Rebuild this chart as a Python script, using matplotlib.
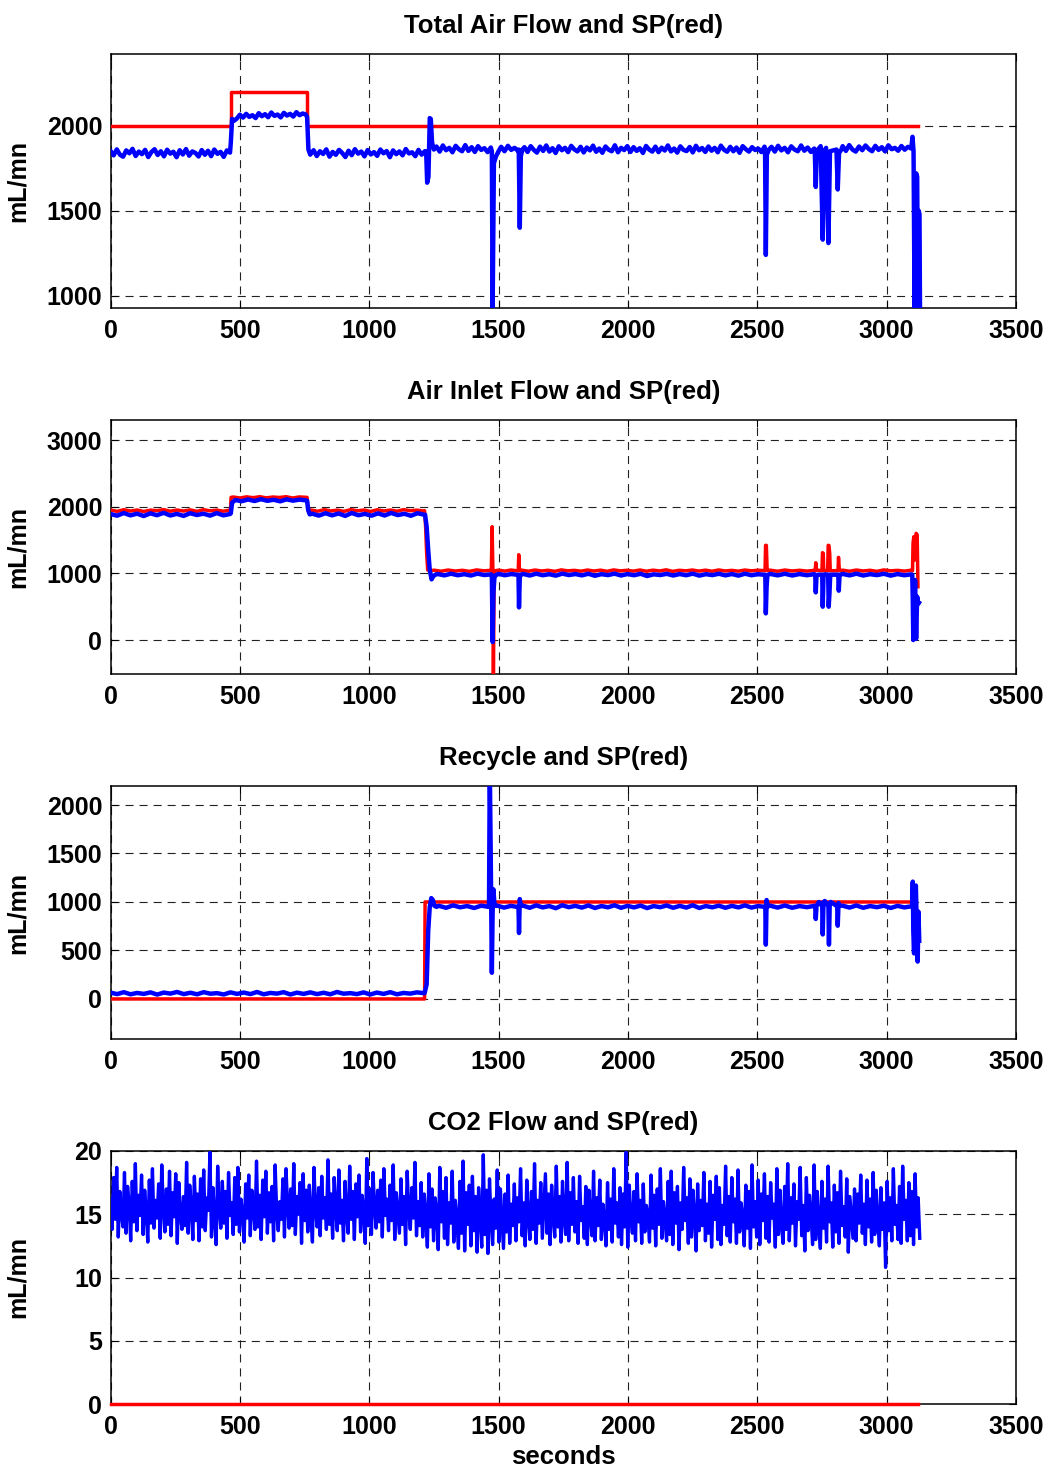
import numpy as np
import matplotlib
matplotlib.use('Agg')
import matplotlib.pyplot as plt

plt.rcParams['font.family'] = ['Liberation Sans', 'DejaVu Sans']
plt.rcParams['font.weight'] = 'bold'
plt.rcParams['lines.scale_dashes'] = False

# Each measured series is a list of pieces: ((t0, t1), values) for a flat noisy
# stretch sampled evenly, or ([t...], [v...]) for explicit points (steps, spikes).

# --- Total Air Flow ---
total_sp_t = [0, 464, 464, 758, 758, 3121]
total_sp_v = [2000, 2000, 2200, 2200, 2000, 2000]
total_pv = [
    ((0, 462), [1852, 1826, 1861, 1830, 1818, 1855, 1838, 1864, 1822, 1848, 1833, 1858, 1816, 1845, 1862, 1828, 1850, 1820, 1859, 1836,
                1847, 1815, 1856, 1831, 1863, 1824, 1849, 1840, 1819, 1857, 1829, 1853, 1821, 1860, 1835, 1846, 1817, 1855, 1842]),
    ([465, 470, 478], [1900, 2040, 2030]),
    ((488, 755), [2042, 2065, 2048, 2070, 2052, 2062, 2045, 2074, 2056, 2068, 2050, 2078, 2058, 2066, 2049, 2076, 2060, 2070, 2054, 2080,
                  2062, 2072, 2066]),
    ([760, 765, 772], [2050, 1860, 1830]),
    ((785, 1215), [1856, 1822, 1850, 1834, 1861, 1818, 1846, 1829, 1858, 1840, 1816, 1853, 1827, 1862, 1836, 1848, 1820, 1857, 1831, 1845,
                   1823, 1860, 1838, 1851, 1815, 1855, 1833, 1849, 1826, 1863, 1837, 1844, 1821, 1858, 1830, 1850]),
    ([1220, 1224, 1229, 1234, 1238, 1243, 1250], [1850, 1665, 1700, 2045, 2040, 1900, 1860]),
    ((1260, 1470), [1878, 1848, 1884, 1856, 1870, 1844, 1882, 1862, 1850, 1886, 1852, 1874, 1846, 1880, 1858, 1868, 1845, 1872]),
    ([1474, 1477, 1482, 1490, 1500], [1850, 900, 1780, 1820, 1850]),
    ((1510, 1575), [1876, 1850, 1882, 1858, 1870, 1852]),
    ([1578, 1582, 1586, 1592], [1860, 1400, 1820, 1860]),
    ((1600, 2528), [1874, 1846, 1880, 1858, 1842, 1877, 1852, 1884, 1848, 1868, 1840, 1879, 1856, 1870, 1845, 1882, 1861, 1849, 1876, 1843,
                    1872, 1855, 1883, 1847, 1866, 1841, 1878, 1859, 1850, 1885, 1844, 1870, 1857, 1880, 1846, 1874, 1852, 1868, 1840, 1881,
                    1860, 1848, 1877, 1845, 1871, 1854, 1884, 1849, 1866, 1842, 1879, 1858, 1851, 1875, 1843, 1882, 1856, 1869, 1846, 1878,
                    1853, 1870, 1844, 1883, 1859, 1847, 1876, 1850, 1872, 1841, 1880, 1862, 1848, 1874, 1857, 1866, 1845, 1877]),
    ([2530, 2533, 2537, 2545], [1860, 1240, 1830, 1860]),
    ((2555, 2720), [1876, 1848, 1882, 1855, 1870, 1844, 1879, 1860, 1850, 1884, 1853, 1872, 1846, 1866]),
    ([2722, 2726, 2730, 2745, 2753, 2758, 2766, 2775, 2781, 2806, 2811, 2816, 2825],
     [1860, 1640, 1850, 1880, 1330, 1850, 1870, 1310, 1850, 1860, 1625, 1840, 1860]),
    ((2830, 3095), [1880, 1852, 1886, 1860, 1848, 1878, 1856, 1884, 1863, 1850, 1882, 1858, 1874, 1849, 1885, 1862, 1870, 1853, 1881, 1859,
                    1876, 1866]),
    ([3100, 3104, 3108, 3114, 3118, 3121, 3124, 3127, 3129], [1935, 1850, 900, 1720, 1700, 900, 1500, 1480, 900]),
]

# --- Air Inlet Flow ---
inlet_sp = [
    ((0, 462), [1950, 1930, 1955, 1935, 1950, 1928, 1948, 1940, 1956, 1932, 1950, 1935, 1952, 1930, 1955, 1938, 1948, 1932, 1950]),
    ([464, 466], [1950, 2140]),
    ((475, 755), [2145, 2130, 2148, 2135, 2150, 2132, 2145, 2138, 2150, 2130, 2146, 2140]),
    ([760, 763], [2140, 1945]),
    ((775, 1210), [1950, 1932, 1955, 1936, 1948, 1930, 1956, 1938, 1950, 1928, 1954, 1935, 1950, 1932, 1956, 1940, 1948, 1936]),
    ([1214, 1218, 1222, 1226, 1240], [1940, 1700, 1300, 1050, 1040]),
    ((1250, 1470), [1048, 1032, 1050, 1035, 1046, 1030, 1052, 1038, 1045]),
    ([1472, 1475, 1478, 1480, 1483, 1488], [1040, 1700, 1050, -600, 1000, 1040]),
    ((1500, 1572), [1048, 1034, 1050, 1038]),
    ([1576, 1578, 1581], [1040, 1280, 1040]),
    ((1590, 2528), [1048, 1032, 1050, 1036, 1046, 1030, 1052, 1038, 1045, 1033, 1050, 1035, 1048, 1031, 1052, 1037, 1046, 1034, 1050,
                    1032, 1048, 1036, 1053, 1030, 1046, 1038, 1050, 1034, 1048, 1032, 1051, 1036, 1045, 1033, 1050, 1038, 1047, 1040]),
    ([2530, 2532, 2535, 2538, 2541], [1040, 1420, 1420, 1060, 1040]),
    ((2550, 2720), [1048, 1032, 1050, 1036, 1046, 1034, 1045]),
    ([2724, 2726, 2729, 2750, 2752, 2755, 2757, 2772, 2774, 2777, 2780, 2782, 2812, 2814, 2817, 2820],
     [1040, 1160, 1050, 1040, 1310, 1300, 1040, 1040, 1420, 1420, 1300, 1040, 1040, 1240, 1060, 1040]),
    ((2830, 3095), [1048, 1032, 1050, 1036, 1046, 1030, 1052, 1038, 1045, 1034, 1048]),
    ([3100, 3102, 3105, 3108, 3111, 3114, 3118, 3121], [1040, 1450, 1550, 1200, 1500, 1600, 1580, 800]),
]
inlet_pv = [
    ((0, 462), [1890, 1865, 1905, 1870, 1895, 1860, 1900, 1872, 1908, 1868, 1892, 1862, 1902, 1875, 1895, 1866, 1904, 1870, 1890]),
    ([465, 470, 476], [1900, 2060, 2080]),
    ((482, 755), [2100, 2082, 2108, 2085, 2112, 2088, 2104, 2080, 2110, 2090, 2106, 2095]),
    ([760, 764, 770], [2090, 1950, 1885]),
    ((780, 1212), [1895, 1866, 1902, 1870, 1898, 1862, 1905, 1872, 1892, 1865, 1900, 1868, 1906, 1874, 1894, 1864, 1902, 1880]),
    ([1216, 1222, 1228, 1234, 1241, 1248, 1258], [1880, 1700, 1350, 1050, 910, 960, 985]),
    ((1265, 1470), [990, 970, 995, 972, 988, 968, 996, 975, 985]),
    ([1474, 1477, 1480, 1484, 1490], [980, -30, 700, 940, 975]),
    ((1500, 1574), [992, 972, 990, 978]),
    ([1577, 1579, 1582, 1586], [980, 490, 940, 980]),
    ((1595, 2528), [992, 968, 995, 972, 988, 966, 996, 975, 990, 970, 994, 964, 988, 974, 996, 968, 990, 972, 994,
                    960, 986, 975, 993, 968, 990, 972, 996, 966, 988, 974, 994, 970, 990, 966, 995, 972, 988, 978]),
    ([2531, 2533, 2536, 2539], [980, 400, 800, 975]),
    ((2550, 2720), [992, 970, 994, 968, 990, 972, 988]),
    ([2724, 2726, 2729, 2735, 2751, 2753, 2756, 2760, 2774, 2776, 2779, 2782, 2813, 2815, 2818],
     [980, 715, 970, 980, 980, 500, 950, 985, 980, 500, 700, 980, 980, 740, 975]),
    ((2830, 3095), [992, 970, 995, 968, 988, 974, 994, 966, 990, 972, 985]),
    ([3099, 3101, 3103, 3106, 3110, 3114, 3118, 3121, 3125], [980, 600, 0, 300, 900, 20, 650, 570, 560]),
]

# --- Recycle ---
recycle_sp_t = [0, 1214, 1216, 3100]
recycle_sp_v = [0, 0, 1000, 1000]
recycle_pv = [
    ((0, 1210), [65, 50, 70, 48, 62, 52, 68, 45, 66, 55, 72, 50, 64, 48, 70, 54, 60, 46, 68, 52, 66, 50, 72, 48,
                 62, 55, 70, 46, 65, 52, 68, 50, 64, 48, 72, 54, 60, 50, 68, 46, 66, 52, 70, 48, 62, 55, 68, 60]),
    ([1214, 1222, 1228, 1234, 1240, 1246, 1252, 1260], [60, 150, 700, 950, 1040, 1020, 960, 950]),
    ((1270, 1460), [960, 940, 965, 945, 958, 938, 962, 950]),
    ([1463, 1466, 1470, 1474, 1477, 1480, 1484, 1490], [955, 2400, 1400, 270, 900, 1130, 980, 960]),
    ((1495, 1574), [962, 942, 960, 948]),
    ([1577, 1579, 1582, 1586], [955, 680, 1030, 960]),
    ((1595, 2528), [962, 940, 965, 944, 958, 936, 966, 946, 960, 942, 964, 938, 958, 945, 966, 940, 960, 944, 963,
                    937, 958, 946, 964, 940, 960, 942, 966, 938, 958, 945, 962, 940, 960, 944, 965, 942, 958, 950]),
    ([2531, 2533, 2536, 2540], [955, 560, 1020, 955]),
    ((2550, 2720), [962, 942, 964, 940, 958, 946, 960]),
    ([2724, 2726, 2729, 2738, 2751, 2753, 2756, 2761, 2775, 2777, 2780, 2784, 2809, 2811, 2814, 2818],
     [955, 825, 960, 1000, 955, 665, 1000, 1010, 955, 560, 990, 1000, 955, 755, 990, 960]),
    ((2830, 3095), [962, 942, 964, 940, 958, 946, 962, 938, 960, 944, 955]),
    ([3099, 3101, 3103, 3106, 3109, 3113, 3116, 3120, 3123, 3126], [955, 1210, 700, 470, 1100, 1170, 800, 385, 900, 600]),
]

# --- CO2 Flow (one reading every 6 s) ---
co2_sp_t = [0, 3121]
co2_sp_v = [0, 0]
co2_pv = [
    16.2, 13.8, 17.9, 14.6, 18.7, 13.2, 16.8, 15.1, 14.0, 18.3, 13.5, 17.2, 15.8, 12.9, 17.6, 14.4, 19.0, 13.7, 16.5, 14.9,
    18.1, 13.4, 16.9, 15.2, 12.8, 17.7, 14.3, 18.6, 13.9, 16.1, 14.7, 17.4, 13.1, 18.9, 15.5, 13.6, 17.0, 14.2, 18.4, 13.3,
    16.7, 14.8, 18.2, 12.7, 17.5, 15.0, 13.8, 16.4, 14.1, 19.1, 13.5, 17.3, 15.6, 13.0, 18.0, 14.5, 16.6, 12.9, 17.8, 14.0,
    18.5, 13.7, 16.3, 15.3, 19.9, 13.2, 17.1, 14.6, 12.6, 18.8, 15.4, 13.9, 17.6, 14.3, 16.8, 13.1, 18.3, 14.9, 15.9, 13.4,
    17.9, 14.2, 18.7, 13.6, 16.2, 15.1, 12.8, 17.4, 14.7, 18.1, 13.3, 16.9, 15.5, 13.8, 19.2, 14.0, 16.5, 13.0, 17.7, 14.8,
    18.4, 13.5, 16.7, 14.4, 17.2, 12.9, 18.9, 15.2, 13.7, 16.0, 14.6, 17.8, 13.2, 18.6, 15.7, 13.9, 17.0, 14.1, 19.0, 13.4,
    16.4, 15.0, 17.5, 12.7, 18.2, 14.5, 16.9, 13.6, 17.3, 14.9, 12.8, 18.7, 15.3, 14.0, 17.1, 13.3, 18.0, 14.7, 16.3, 13.8,
    19.3, 14.2, 16.6, 13.1, 17.9, 15.4, 13.7, 18.5, 14.3, 16.1, 12.9, 17.6, 15.0, 13.5, 18.8, 14.6, 16.8, 13.0, 17.4, 14.8,
    18.1, 13.6, 16.5, 15.2, 12.7, 19.4, 14.1, 17.0, 13.4, 18.3, 15.6, 13.9, 16.9, 14.4, 17.7, 13.2, 18.6, 14.9, 16.2, 13.7,
    17.3, 14.5, 18.9, 13.0, 16.7, 15.1, 13.5, 17.8, 14.2, 16.4, 12.6, 18.4, 15.3, 13.8, 17.1, 14.7, 19.1, 13.3, 16.0, 14.1,
    17.5, 13.2, 16.6, 14.8, 12.4, 18.2, 14.0, 17.0, 12.9, 16.3, 15.1, 12.2, 18.7, 14.4, 16.8, 13.1, 17.9, 12.6, 15.9, 14.3,
    18.4, 12.8, 16.1, 14.6, 12.3, 17.6, 13.5, 19.2, 12.1, 16.7, 14.2, 17.3, 12.5, 18.0, 13.7, 16.4, 12.0, 17.1, 14.9, 12.4,
    19.7, 13.4, 16.9, 11.9, 17.8, 14.5, 12.6, 16.2, 13.9, 18.5, 12.8, 17.0, 14.7, 12.3, 16.6, 13.6, 18.1, 12.7, 15.8, 14.1,
    17.4, 12.9, 16.3, 14.4, 18.6, 13.3, 15.9, 12.5, 17.7, 14.8, 13.0, 16.8, 13.8, 19.0, 12.7, 16.1, 14.3, 17.5, 13.1, 15.7,
    18.2, 13.5, 16.6, 12.6, 17.3, 14.9, 13.2, 18.8, 14.0, 16.4, 12.8, 17.6, 14.6, 13.4, 19.1, 12.9, 16.7, 14.2, 17.9, 13.6,
    16.0, 12.7, 18.0, 14.5, 15.6, 13.1, 17.2, 12.6, 16.9, 14.8, 13.3, 18.4, 12.9, 16.3, 14.1, 17.7, 13.0, 15.8, 14.6, 12.5,
    17.5, 13.8, 16.2, 12.8, 18.6, 14.3, 15.9, 13.2, 17.1, 12.6, 16.6, 14.0, 19.9, 12.4, 17.3, 14.7, 13.5, 16.8, 12.9, 18.2,
    14.4, 16.1, 12.7, 17.4, 13.6, 15.7, 14.9, 12.8, 18.1, 13.9, 16.5, 12.5, 17.0, 14.2, 18.6, 13.1, 16.0, 14.6, 12.9, 17.6,
    13.4, 18.4, 12.6, 16.7, 14.3, 17.2, 12.2, 15.9, 13.8, 18.7, 14.5, 16.3, 12.7, 17.8, 13.2, 16.9, 14.8, 12.1, 17.4, 13.7,
    16.1, 14.1, 18.3, 12.9, 15.8, 13.5, 17.6, 12.4, 16.5, 14.6, 18.0, 13.0, 17.1, 12.6, 15.7, 14.2, 18.8, 13.3, 16.4, 12.8,
    17.9, 14.4, 16.2, 12.7, 18.5, 13.6, 15.9, 14.8, 12.5, 17.3, 13.9, 16.8, 12.3, 18.9, 14.0, 16.0, 13.2, 17.7, 12.6, 16.6,
    14.5, 18.2, 13.1, 16.4, 12.8, 17.5, 14.7, 15.8, 12.4, 18.6, 13.4, 16.9, 14.1, 12.7, 17.2, 13.8, 19.0, 12.9, 16.3, 14.3,
    17.4, 12.5, 16.0, 14.6, 18.7, 13.3, 15.7, 12.1, 17.9, 13.7, 16.5, 14.9, 12.6, 18.9, 13.0, 16.8, 14.2, 12.3, 17.6, 13.9,
    16.2, 12.8, 18.8, 14.4, 15.9, 12.4, 17.3, 13.6, 16.7, 12.7, 18.4, 14.1, 15.6, 13.2, 17.8, 12.0, 16.4, 14.8, 13.1, 17.0,
    12.9, 16.6, 14.3, 18.1, 13.5, 15.8, 12.6, 17.7, 14.0, 16.2, 12.8, 18.3, 13.4, 16.9, 14.5, 12.5, 17.1, 13.8, 15.9, 10.8,
    17.6, 13.7, 16.3, 12.9, 18.6, 14.2, 15.7, 13.0, 17.2, 12.7, 18.8, 14.6, 16.1, 12.9, 17.5, 13.3, 16.8, 12.6, 18.2, 14.0,
    16.3, 13.1,
]
co2_t = np.linspace(0, 3128, len(co2_pv))

titles = ['Total Air Flow and SP(red)', 'Air Inlet Flow and SP(red)',
          'Recycle and SP(red)', 'CO2 Flow and SP(red)']
ylims = [(928, 2422), (-509, 3300), (-413, 2196), (0, 20)]
yticks = [[1000, 1500, 2000], [0, 1000, 2000, 3000],
          [0, 500, 1000, 1500, 2000], [0, 5, 10, 15, 20]]
xticks = [0, 500, 1000, 1500, 2000, 2500, 3000, 3500]


def unpack(pieces):
    ts, vs = [], []
    for times, vals in pieces:
        if isinstance(times, tuple):
            times = np.linspace(times[0], times[1], len(vals))
        ts.extend(times)
        vs.extend(vals)
    return np.array(ts), np.array(vs)


series = [
    ((total_sp_t, total_sp_v), unpack(total_pv)),
    (unpack(inlet_sp), unpack(inlet_pv)),
    ((recycle_sp_t, recycle_sp_v), unpack(recycle_pv)),
    ((co2_sp_t, co2_sp_v), (co2_t, co2_pv)),
]

W, H = 1046, 1468
fig = plt.figure(figsize=(W / 100, H / 100), dpi=100)
# axes boxes in pixels: (top, bottom)
boxes = [(54, 308), (420, 674), (786, 1039), (1151, 1404)]
left, right = 110.5, 1016

for i, ((sp_t, sp_v), (pv_t, pv_v)) in enumerate(series):
    top, bot = boxes[i]
    ax = fig.add_axes([left / W, 1 - bot / H, (right - left) / W, (bot - top) / H])
    ax.plot(sp_t, sp_v, color='#ff0000', lw=2.5, clip_on=(i != 3), zorder=3)
    ax.plot(pv_t, pv_v, color='#0000ff', lw=3.2 if i < 3 else 2.4, zorder=4)
    ax.set_xlim(0, 3500)
    ax.set_ylim(*ylims[i])
    ax.set_xticks(xticks)
    ax.set_yticks(yticks[i])
    ax.grid(True, color='#222222', lw=0.8, linestyle=(0, (5.8, 4.3)))
    ax.tick_params(direction='in', length=5, width=0.8, top=True, right=True,
                   labelsize=18, pad=6)
    ax.tick_params(axis='x', pad=8)
    for s in ax.spines.values():
        s.set_linewidth(1.1)
    ax.set_title(titles[i], fontsize=18.5, fontweight='bold', pad=15)
    ax.set_ylabel('mL/mn', fontsize=18, fontweight='bold')
    ax.yaxis.set_label_coords(-0.089, 0.5)
    if i == 3:
        ax.set_xlabel('seconds', fontsize=18.5, fontweight='bold', labelpad=4)

fig.savefig('out.png', dpi=100)
